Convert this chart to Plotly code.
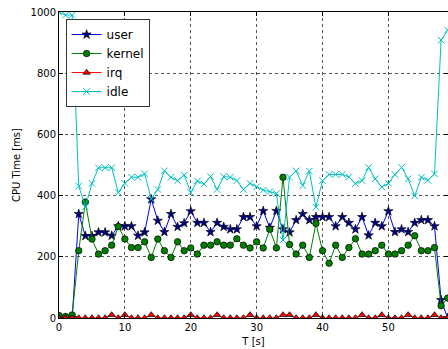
import plotly.graph_objects as go

t = list(range(60))
user = [0, 0, 0, 340, 268, 268, 280, 280, 269, 300,
        300, 300, 269, 280, 388, 318, 281, 340, 298, 310,
        349, 311, 311, 281, 311, 298, 290, 290, 330, 330,
        300, 350, 295, 350, 290, 280, 320, 340, 320, 330,
        330, 330, 300, 330, 311, 290, 330, 270, 311, 300,
        349, 281, 290, 281, 311, 320, 320, 300, 59, 0]
kernel = [8, 5, 10, 220, 379, 258, 209, 220, 238, 299,
          258, 230, 230, 249, 198, 258, 220, 198, 249, 220,
          229, 209, 238, 238, 249, 238, 238, 259, 238, 229,
          249, 229, 290, 229, 460, 240, 209, 238, 198, 309,
          220, 179, 238, 198, 230, 259, 209, 209, 220, 238,
          209, 209, 220, 238, 269, 220, 220, 230, 40, 65]
irq_peaks = [8, 10, 14, 20, 24, 29, 34, 35, 39, 46, 49, 53, 57]
irq = [10 if i in irq_peaks else 0 for i in t]
idle = [1000, 990, 990, 431, 363, 440, 491, 491, 491, 410,
        440, 460, 460, 471, 389, 420, 481, 460, 449, 467,
        410, 448, 438, 462, 420, 462, 460, 449, 420, 440,
        429, 418, 413, 407, 255, 460, 481, 433, 480, 362,
        449, 469, 469, 469, 461, 439, 449, 492, 455, 428,
        440, 469, 492, 455, 399, 460, 450, 471, 908, 941]

xticks = [0, 10, 20, 30, 40, 50]
yticks = [0, 200, 400, 600, 800, 1000]

fig = go.Figure()
fig.add_trace(go.Scatter(x=t, y=user, name="user", mode="lines+markers",
                         line=dict(color="#0000ff", width=1),
                         marker=dict(symbol="star", size=7, color="#000080",
                                     line=dict(color="black", width=0.6))))
fig.add_trace(go.Scatter(x=t, y=kernel, name="kernel", mode="lines+markers",
                         line=dict(color="#008000", width=1),
                         marker=dict(symbol="circle", size=6.5, color="#008000",
                                     line=dict(color="black", width=0.7))))
fig.add_trace(go.Scatter(x=t, y=irq, name="irq", mode="lines+markers",
                         line=dict(color="#ff0000", width=1),
                         marker=dict(symbol="triangle-up", size=6.5, color="#ff0000",
                                     line=dict(color="black", width=0.7))))
fig.add_trace(go.Scatter(x=t, y=idle, name="idle", mode="lines+markers",
                         line=dict(color="#00bfbf", width=1),
                         marker=dict(symbol="x-thin", size=6.5, color="#00bfbf",
                                     line=dict(color="#00bfbf", width=1))))

axis_common = dict(showline=True, linecolor="black", linewidth=1, mirror="ticks",
                   ticks="inside", ticklen=4, tickcolor="black",
                   showgrid=True, gridcolor="#555555", griddash="dot", gridwidth=1,
                   zeroline=False, tickfont=dict(size=10, color="black"))

fig.update_xaxes(range=[0, 59.05], tickvals=xticks,
                 title=dict(text="T [s]", font=dict(size=10, color="black"), standoff=5),
                 **axis_common)
fig.update_yaxes(range=[0, 1000], tickvals=yticks,
                 title=dict(text="CPU Time [ms]", font=dict(size=10, color="black"), standoff=8),
                 **axis_common)

fig.update_layout(
    width=448, height=349,
    margin=dict(l=59, r=0, t=12, b=31),
    paper_bgcolor="white", plot_bgcolor="white",
    font=dict(family="DejaVu Sans", size=10, color="black"),
    legend=dict(x=0.017, y=0.977, xanchor="left", yanchor="top",
                bgcolor="white", bordercolor="#333333", borderwidth=1,
                font=dict(size=12, color="black"), tracegroupgap=0,
                itemwidth=30),
    showlegend=True,
)

fig.write_html("out.html")
